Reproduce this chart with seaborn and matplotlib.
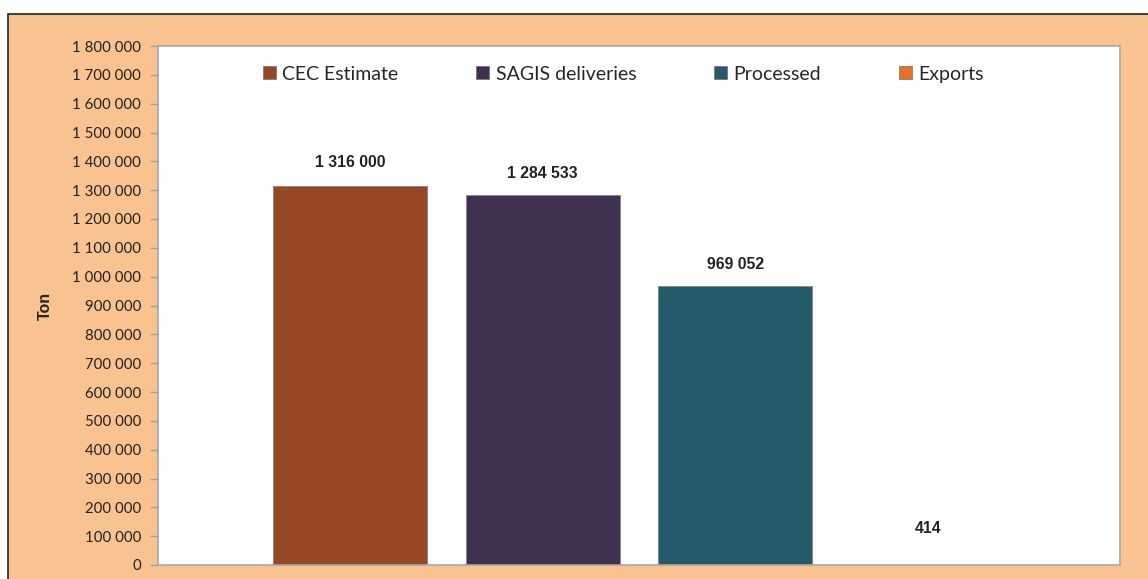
import matplotlib
matplotlib.use("Agg")
import matplotlib.pyplot as plt
from matplotlib.patches import Rectangle
from matplotlib.ticker import FuncFormatter, MultipleLocator
import seaborn as sns
import pandas as pd

categories = ["CEC Estimate", "SAGIS deliveries", "Processed", "Exports"]
values = [1316000, 1284533, 969052, 414]
colors = ["#964823", "#413150", "#245A69", "#E8702A"]
label_pad = [11, 10, 10, 21]

df = pd.DataFrame({"series": categories, "ton": values})

sns.set_theme(style="white")
plt.rcParams["font.family"] = ["Lato", "DejaVu Sans"]

fig = plt.figure(figsize=(11.48, 5.79), dpi=100, facecolor="white")
fig.patches.append(Rectangle((8 / 1148, -0.01), 1.0, (579 - 14) / 579 + 0.01,
                             transform=fig.transFigure, facecolor="#F9C291",
                             edgecolor="#222222", linewidth=1.2, zorder=-10))

ax = fig.add_axes([158 / 1148, 14 / 579, (1120 - 158) / 1148, (565 - 46) / 579])
ax.set_zorder(1)
sns.barplot(data=df, x="series", y="ton", hue="series", palette=colors,
            saturation=1, width=0.8, dodge=False, legend=False, ax=ax,
            edgecolor="#8A8A8A", linewidth=0.7)
ax.set_facecolor("white")
ax.set_xlim(-1, 4)
ax.set_ylim(0, 1800000)
ax.yaxis.set_major_locator(MultipleLocator(100000))
ax.yaxis.set_major_formatter(FuncFormatter(lambda v, p: f"{int(v):,}".replace(",", " ")))
ax.tick_params(axis="y", which="major", left=True, length=6, width=1,
               color="#A0A0A0", labelsize=10.8, labelcolor="#222222", pad=6)
ax.set_xticks([])
ax.set_xlabel("")
ax.set_ylabel("Ton", fontsize=11.5, fontweight="bold", family="Liberation Sans", labelpad=14)
for s in ax.spines.values():
    s.set_color("#A8A8A8")
    s.set_linewidth(1.2)

for bar, v, pad in zip(ax.patches, values, label_pad):
    ax.annotate(f"{v:,}".replace(",", " "),
                (bar.get_x() + bar.get_width() / 2, bar.get_height()),
                xytext=(0, pad), textcoords="offset points", ha="center", va="bottom",
                fontsize=11.3, fontweight="bold", family="Liberation Sans", color="#222222")

handles = [Rectangle((0, 0), 1, 1, facecolor=c, edgecolor="#707070", linewidth=0.5) for c in colors]
ax.legend(handles, categories, loc="upper left", bbox_to_anchor=((263 - 158) / 962, 0.962), ncol=4,
          frameon=False, fontsize=14, handlelength=0.65, handleheight=0.65,
          handletextpad=0.35, columnspacing=4.0, borderpad=0, borderaxespad=0)

fig.savefig("out.png", dpi=100, facecolor="white")
